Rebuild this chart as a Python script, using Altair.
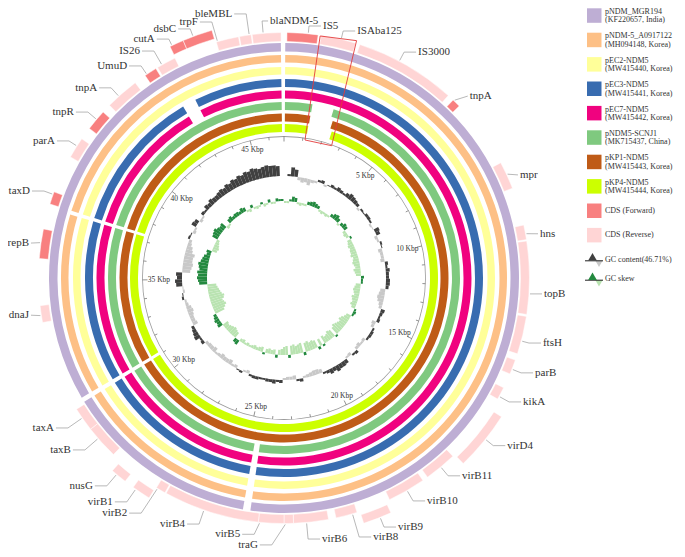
import math
import altair as alt
import pandas as pd

# ---------------- data ----------------
GENOME_KB = 46.8
GC_WINDOW_KB = 0.25

RING_NAMES = ["pNDM_MGR194", "pNDM-5_A0917122", "pEC2-NDM5", "pEC3-NDM5",
              "pEC7-NDM5", "pNDM5-SCNJ1", "pKP1-NDM5", "pKP4-NDM5"]
RING_SOURCES = ["(KF220657, India)", "(MH094148, Korea)", "(MW415440, Korea)",
                "(MW415441, Korea)", "(MW415442, Korea)", "(MK715437, China)",
                "(MW415443, Korea)", "(MW415444, Korea)"]
RING_COLORS = ["#beaed4", "#fdc086", "#ffff99", "#386cb0",
               "#f0027f", "#7fc97f", "#bf5b17", "#ccff00"]
# matched blocks (kb) per ring, outermost ring first
RING_BLOCKS = [
    [(0.04, 24.47), (24.71, 30.97), (31.12, 46.70)],
    [(0.04, 24.47), (24.71, 30.97), (31.12, 37.25), (37.38, 46.70)],
    [(0.04, 24.47), (24.71, 30.97), (31.12, 37.25), (37.38, 46.70)],
    [(0.04, 24.47), (24.71, 30.97), (31.12, 37.25), (37.38, 42.84), (43.36, 46.70)],
    [(0.04, 24.47), (24.71, 30.97), (31.12, 37.25), (37.38, 42.84), (43.36, 46.70)],
    [(0.04, 1.21), (2.13, 24.47), (24.71, 30.97), (31.12, 37.25), (37.38, 46.70)],
    [(0.04, 1.20), (2.24, 30.97), (31.12, 37.25), (37.38, 46.70)],
    [(0.04, 1.18), (2.35, 30.97), (31.12, 37.25), (37.38, 46.70)],
]

CDS_NAMES = ["IS5", "ISAba125", "IS3000", "tnpA", "mpr", "hns", "topB", "ftsH",
             "parB", "kikA", "virD4", "virB11", "virB10", "virB9", "virB8", "virB6",
             "traG", "virB5", "virB4", "virB2", "virB1", "nusG", "taxB", "taxA",
             "dnaJ", "repB", "taxD", "parA", "tnpR", "tnpA", "UmuD", "IS26",
             "cutA", "dsbC", "trpF", "bleMBL", "blaNDM-5"]
CDS_START_KB = [0.09, 1.13, 2.34, 5.66, 8.06, 10.08, 10.57, 12.87, 14.24, 15.15,
                15.93, 17.75, 18.92, 20.22, 21.15, 22.04, 23.11, 23.40, 24.18, 27.17,
                27.50, 28.34, 29.12, 30.16, 33.74, 35.69, 37.38, 38.94, 39.98, 40.91,
                42.32, 42.77, 43.39, 43.81, 44.72, 45.44, 45.83]
CDS_END_KB = [1.04, 2.21, 5.46, 5.92, 8.91, 10.53, 12.81, 14.04, 14.69, 15.54,
              17.68, 18.75, 20.09, 21.06, 21.81, 23.11, 23.40, 24.18, 27.13, 27.47,
              28.05, 28.82, 30.16, 30.90, 34.26, 36.60, 37.77, 39.59, 40.63, 41.95,
              42.71, 43.37, 43.81, 44.69, 45.41, 45.80, 46.71]
CDS_STRAND = ["+", "-", "-", "+", "-", "-", "-", "-", "-", "-",
              "-", "-", "-", "-", "-", "-", "-", "-", "-", "-",
              "-", "-", "-", "-", "-", "+", "+", "-", "+", "-",
              "+", "-", "+", "+", "-", "-", "-"]
CDS_TRACK = [1, 1, 1, 1, 1, 1, 1, 1, 1, 1,
             2, 1, 1, 2, 1, 1, 1, 1, 1, 1,
             2, 2, 1, 1, 1, 1, 1, 1, 1, 1,
             1, 1, 2, 2, 1, 1, 1]

# GC content deviation per 250 bp window (+ above mean, - below mean)
GC_CONTENT = [
    0, 2, 9, 7,   -3, -5, -4, -6,   -3, -2, 2, 3,   -2, 1, 3, 2,
    4, 3, 2, 4,   6, 5, 4, 3,   -2, 2, 1, 3,   3, 2, -2, -1,
    5, 4, -3, -2,   2, 1, -4, -3,   -3, -4, 3, 2,   4, 3, 3, 4,
    4, 3, -5, -6,   -7, -6, -4, -3,   4, 3, 2, 3,   -4, -3, 2, 3,
    3, 2, -3, -2,   -4, -3, 3, 2,   -3, -2, 4, 5,   5, 6, 4, 5,
    3, 2, -4, -5,   -5, -4, -3, -2,   3, 2, -4, -3,   -3, -2, 3, 2,
    4, 3, 3, 2,   2, 3, 3, 2,   -3, -2, 2, 1,   -3, -2, -5, -4,
    -4, -5, -3, -2,   -5, -4, -4, -3,   3, 2, 6, 5,   4, 3, -5, -4,
    -4, -5, -6, -5,   -3, -2, 2, 1,   -2, -1, 6, 7,   5, 6, -8, -9,
    -10, -9, -9, -10,   -7, -6, -4, -3,   2, 1, -3, -2,   5, 4, -3, -2,
    3, 2, 5, 4,   6, 5, 5, 6,   7, 6, 8, 7,   9, 8, 10, 9,
    11, 10, 12, 11,   10, 11, 12, 11,   11, 10, 0, 0,
]
# GC skew per 250 bp window (+ positive skew, - negative skew)
GC_SKEW = [
    -2, -2, 2, 5,   4, -2, -3, -2,   -2, 3, 4, 5,   4, 3, -2, -3,
    -2, -3, -2, 3,   5, 6, 4, -2,   3, 5, 4, -3,   -4, -3, 2, -4,
    -5, -6, -5, -6,   -6, -7, -5, -6,   -7, -6, -5, -7,   -6, -5, 3, 2,
    2, -5, -6, -7,   -6, -5, -7, -6,   -5, -6, -4, 2,   3, 2, -5, -6,
    -8, -9, -7, -8,   -9, -10, -8, 2,   -8, -9, -7, -6,   -8, 2, -7, 3,
    -8, -9, -8, -10,   -9, 3, -10, -9,   -8, -10, -9, 3,   -9, -8, -6, -5,
    3, -5, -4, -5,   -4, 2, -5, -4,   -3, -4, -3, -2,   -3, -2, -4, -3,
    5, 4, -6, -7,   -8, -7, -6, -5,   -6, 5, 4, 5,   4, 3, -10, -12,
    -14, -13, -12, -14,   -15, -13, -12, -11,   -10, -9, 8, 9,   10, 9, 10, 8,
    9, 10, 8, 7,   6, 4, 5, -5,   -6, -5, -4, -3,   6, 7, 8, 6,
    5, 6, -3, -2,   4, 5, 3, 4,   4, 3, 5, 4,   -2, -3, 3, -2,
    -3, -2, 2, -3,   -2, 3, -2, -2,   3, 2, 2, 0,
]

SCALE_MAJOR_KB = [5, 10, 15, 20, 25, 30, 35, 40, 45]
SCALE_LABELS = ["5 Kbp", "10 Kbp", "15 Kbp", "20 Kbp", "25 Kbp",
                "30 Kbp", "35 Kbp", "40 Kbp", "45 Kbp"]
GC_LEGEND = ["GC content(46.71%)", "GC skew"]
CDS_LEGEND = ["CDS (Forward)", "CDS (Reverse)"]

# ---------------- layout / style ----------------
W, H = 669, 541
CX, CY = 276, 270
RING_RADII = [(235, 226.5), (223, 215.5), (211, 203.5), (199, 191),
              (187.5, 179.5), (176, 168), (164.5, 156.5), (154, 146)]
TRACK_RADII = {1: (245.5, 236.5), 2: (258, 249)}
GC_BASE_R = 102
SKEW_BASE_R = 77
SCALE_R = 141.5
FWD_COLOR, REV_COLOR = "#f88080", "#ffd5d5"
GC_HI, GC_LO = "#404040", "#c8c8c8"
SK_HI, SK_LO = "#23893f", "#b9e3b1"
SERIF = "Liberation Serif"

# label placement (polar: degrees clockwise from top, radius px), aligned with CDS_NAMES
LABEL_DEG = [8.8, 16.5, 30.7, 45.6, 66.4, 80.2, 93.5, 104.1, 110.7, 117.4,
             126.9, 138.0, 147.3, 155.4, 161.0, 171.7, 185.6, 189.7, 201.9, 213.7,
             217.4, 222.6, 231.1, 236.9, 261.7, 277.8, 288.9, 300.9, 308.3, 315.5,
             323.5, 327.6, 331.6, 336.6, 341.4, 348.9, 356.9]
LABEL_R = [255.0, 257.6, 262.7, 260.0, 257.5, 259.8, 260.5, 267.0, 268.4, 269.3,
           279.2, 266.2, 264.9, 273.9, 273.9, 263.8, 268.2, 260.0, 265.2, 282.6,
           281.8, 282.4, 273.8, 274.6, 257.7, 257.4, 268.5, 266.9, 267.7, 266.6,
           263.8, 268.8, 271.6, 271.4, 270.1, 269.1, 257.4]
ELBOW = {36: 8}

# box around the ISAba125 region (kb, radius)
BOX_POLAR = [(1.105, 244.7), (2.21, 248.2), (2.574, 140.6), (1.125, 139.6), (1.105, 244.7)]

TWO_PI = 2 * math.pi


def ang(kb):
    return kb / GENOME_KB * TWO_PI


def xy(theta, r):
    return CX + r * math.sin(theta), CY - r * math.cos(theta)


XS = alt.Scale(domain=[0, W], nice=False, zero=False)
YS = alt.Scale(domain=[0, H], nice=False, zero=False, reverse=True)


def X(f):
    return alt.X(f, type="quantitative", scale=XS, axis=None)


def Y(f):
    return alt.Y(f, type="quantitative", scale=YS, axis=None)


def arc_layer(df, **kw):
    return alt.Chart(df).mark_arc(x=CX, y=CY, **kw).encode(
        theta=alt.Theta("t0:Q", scale=None), theta2="t1:Q",
        radius=alt.Radius("ro:Q", scale=None), radius2="ri:Q",
        color=alt.Color("c:N", scale=None))


# rings
rows = []
for i, blocks in enumerate(RING_BLOCKS):
    ro, ri = RING_RADII[i]
    for a, b in blocks:
        rows.append(dict(t0=ang(a), t1=ang(b), ro=ro, ri=ri, c=RING_COLORS[i]))
rings = arc_layer(pd.DataFrame(rows))

# CDS
rows = []
for i, n in enumerate(CDS_NAMES):
    ro, ri = TRACK_RADII[CDS_TRACK[i]]
    rows.append(dict(t0=ang(CDS_START_KB[i]), t1=ang(CDS_END_KB[i]), ro=ro, ri=ri,
                     c=FWD_COLOR if CDS_STRAND[i] == "+" else REV_COLOR))
cds = arc_layer(pd.DataFrame(rows), stroke="white", strokeWidth=0.5)

# GC content and skew
rows = []
for vals, base, hi, lo in [(GC_CONTENT, GC_BASE_R, GC_HI, GC_LO),
                           (GC_SKEW, SKEW_BASE_R, SK_HI, SK_LO)]:
    for k, v in enumerate(vals):
        if v == 0:
            continue
        a = k * GC_WINDOW_KB
        b = min((k + 1) * GC_WINDOW_KB, GENOME_KB)
        rows.append(dict(t0=ang(a), t1=ang(b), ro=max(base, base + v),
                         ri=min(base, base + v), c=hi if v > 0 else lo))
gc = arc_layer(pd.DataFrame(rows))

# scale circle
circle = arc_layer(pd.DataFrame([dict(t0=0, t1=TWO_PI, ro=SCALE_R + 0.4,
                                      ri=SCALE_R - 0.4, c="#9a9a9a")]))
rows = []
for k in range(0, 47):
    t = ang(k)
    x1, y1 = xy(t, SCALE_R)
    x2, y2 = xy(t, SCALE_R - (5 if k % 5 == 0 else 3))
    rows.append(dict(x=x1, y=y1, x2=x2, y2=y2))
ticks = alt.Chart(pd.DataFrame(rows)).mark_rule(color="#777", strokeWidth=0.8).encode(
    x=X("x"), y=Y("y"), x2="x2", y2="y2")

rows = []
for k, lab in zip(SCALE_MAJOR_KB, SCALE_LABELS):
    t = ang(k)
    x, y = xy(t, 125 + 7 * abs(math.cos(t)))
    rows.append(dict(x=x, y=y, s=lab))
scale_text = alt.Chart(pd.DataFrame(rows)).mark_text(
    font=SERIF, fontSize=7.5, color="#333", align="center", baseline="middle").encode(
    x=X("x"), y=Y("y"), text="s:N")

# highlight box
rows = []
for j, (kb, r) in enumerate(BOX_POLAR):
    x, y = xy(ang(kb), r)
    rows.append(dict(x=x, y=y, k=j))
box = alt.Chart(pd.DataFrame(rows)).mark_line(color="#e33b3b", strokeWidth=0.9).encode(
    x=X("x"), y=Y("y"), order="k:Q")

# gene labels and leaders
lab_rows, lead_rows = [], []
for i, n in enumerate(CDS_NAMES):
    th = math.radians(LABEL_DEG[i])
    ax, ay = xy(th, LABEL_R[i])
    side = "R" if (math.sin(th) > 0 or LABEL_DEG[i] > 355) else "L"
    sgn = 1 if side == "R" else -1
    ex, ey = ax - sgn * ELBOW.get(i, 14), ay
    tx = ax - sgn * 2
    e_th = math.atan2(ex - CX, -(ey - CY)) % TWO_PI
    t0, t1 = ang(CDS_START_KB[i]), ang(CDS_END_KB[i])
    m = min(0.005, (t1 - t0) / 4)
    at = min(max(e_th, t0 + m), t1 - m)
    r_att = TRACK_RADII[CDS_TRACK[i]][0] + 1
    px, py = xy(at, r_att)
    pts = [(px, py)]
    if math.hypot(ex - CX, ey - CY) > r_att + 4:
        pts.append((ex, ey))
    pts.append((tx, ay))
    for j, (x, y) in enumerate(pts):
        lead_rows.append(dict(id=i, k=j, x=x, y=y))
    lab_rows.append(dict(x=ax, y=ay, s=n, side=side))
lab_df = pd.DataFrame(lab_rows)
leaders = alt.Chart(pd.DataFrame(lead_rows)).mark_line(color="#999", strokeWidth=0.7).encode(
    x=X("x"), y=Y("y"), detail="id:N", order="k:Q")
lab_r = alt.Chart(lab_df[lab_df.side == "R"]).mark_text(
    font=SERIF, fontSize=11, color="#333", align="left", baseline="middle").encode(
    x=X("x"), y=Y("y"), text="s:N")
lab_l = alt.Chart(lab_df[lab_df.side == "L"]).mark_text(
    font=SERIF, fontSize=11, color="#333", align="right", baseline="middle").encode(
    x=X("x"), y=Y("y"), text="s:N")

# legend
LX, LY0, LSTEP, LSQ, LTX = 579, 0.3, 24.4, 14.5, 597
sq_rows, txt_rows = [], []
sq_colors = RING_COLORS + [FWD_COLOR, REV_COLOR]
for i, c in enumerate(sq_colors):
    top = LY0 + LSTEP * i
    sq_rows.append(dict(x=LX, x2=LX + LSQ, y=top, y2=top + LSQ, c=c))
    if i < len(RING_NAMES):
        txt_rows.append(dict(x=LTX, y=top + 3.6, s=RING_NAMES[i]))
        txt_rows.append(dict(x=LTX, y=top + 12.0, s=RING_SOURCES[i]))
    else:
        txt_rows.append(dict(x=LTX, y=top + 7, s=CDS_LEGEND[i - len(RING_NAMES)]))
gc_y = [LY0 + LSTEP * 10 + 8.5, LY0 + LSTEP * 11 + 3.5]
for j, s in enumerate(GC_LEGEND):
    txt_rows.append(dict(x=LTX, y=gc_y[j] - 1, s=s))
leg_sq = alt.Chart(pd.DataFrame(sq_rows)).mark_rect().encode(
    x=X("x"), x2="x2", y=Y("y"), y2="y2", color=alt.Color("c:N", scale=None))
leg_txt = alt.Chart(pd.DataFrame(txt_rows)).mark_text(
    font=SERIF, fontSize=8, color="#333", align="left", baseline="middle").encode(
    x=X("x"), y=Y("y"), text="s:N")
sym_line = pd.DataFrame([dict(x=LX - 2, x2=LX + 16, y=gc_y[0]),
                         dict(x=LX - 2, x2=LX + 16, y=gc_y[1])])
leg_line = alt.Chart(sym_line).mark_rule(color="#222", strokeWidth=1).encode(
    x=X("x"), x2="x2", y=Y("y"))
up_rows = [dict(x=LX + 5.5, y=gc_y[0] - 4, c=GC_HI), dict(x=LX + 5.5, y=gc_y[1] - 4, c=SK_HI)]
dn_rows = [dict(x=LX + 12, y=gc_y[0] + 3, c=GC_LO), dict(x=LX + 12, y=gc_y[1] + 3, c=SK_LO)]
leg_up = alt.Chart(pd.DataFrame(up_rows)).mark_point(
    shape="triangle-up", filled=True, size=75, opacity=1).encode(
    x=X("x"), y=Y("y"), color=alt.Color("c:N", scale=None))
leg_dn = alt.Chart(pd.DataFrame(dn_rows)).mark_point(
    shape="triangle-down", filled=True, size=55, opacity=1).encode(
    x=X("x"), y=Y("y"), color=alt.Color("c:N", scale=None))

chart = alt.layer(
    rings, cds, gc, circle, ticks, scale_text, box, leaders, lab_r, lab_l,
    leg_sq, leg_txt, leg_dn, leg_line, leg_up
).properties(width=W, height=H, padding=0, autosize="none").configure_view(strokeWidth=0)

chart.save("out.html", embed_options={"renderer": "svg", "actions": False})
